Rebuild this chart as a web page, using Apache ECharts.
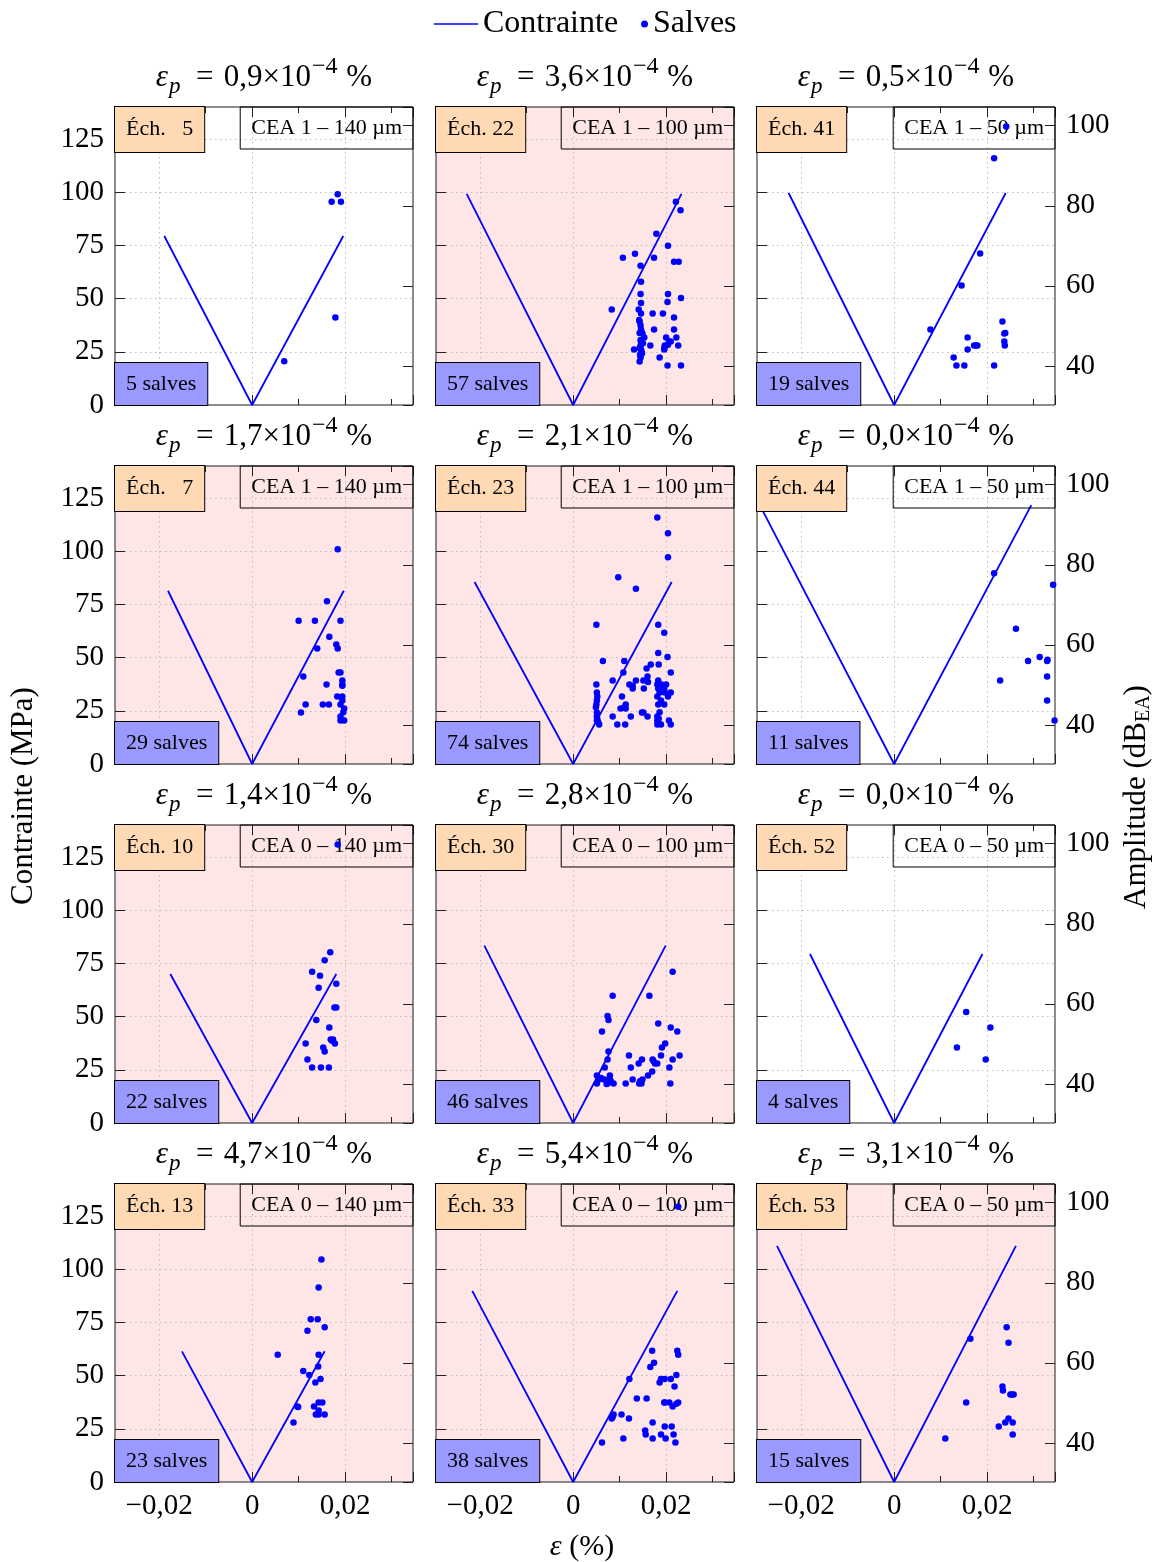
<!DOCTYPE html>
<html>
<head>
<meta charset="utf-8">
<script src="https://cdn.jsdelivr.net/npm/echarts@6.0.0/dist/echarts.min.js"></script>
<style>
  html, body { margin: 0; padding: 0; background: #fff; }
  #chart { width: 1162px; height: 1562px; }
</style>
</head>
<body>
<div id="chart"></div>
<script>
// panels, row by row
const echNums = ['\u20075', '22', '41', '\u20077', '23', '44', '10', '30', '52', '13', '33', '53']
const ceaLabels = [
  'CEA 1 – 140 µm', 'CEA 1 – 100 µm', 'CEA 1 – 50 µm',
  'CEA 1 – 140 µm', 'CEA 1 – 100 µm', 'CEA 1 – 50 µm',
  'CEA 0 – 140 µm', 'CEA 0 – 100 µm', 'CEA 0 – 50 µm',
  'CEA 0 – 140 µm', 'CEA 0 – 100 µm', 'CEA 0 – 50 µm'
]
const epsP = ['0,9', '3,6', '0,5', '1,7', '2,1', '0,0', '1,4', '2,8', '0,0', '4,7', '5,4', '3,1']
const salvesCount = [5, 57, 19, 29, 74, 11, 22, 46, 4, 23, 38, 15]
const pinkPanel = [false, true, false, true, true, false, true, true, false, true, true, true]

// Contrainte : V shape (strain at left top, strain at right top, peak stress)
const vLeft = [-0.0189, -0.0229, -0.0227, -0.0181, -0.0212, -0.0289, -0.0176, -0.0191, -0.0181, -0.0151, -0.0217, -0.0252]
const vRight = [0.0196, 0.0233, 0.0240, 0.0197, 0.0212, 0.0295, 0.0181, 0.0199, 0.0190, 0.0156, 0.0224, 0.0262]
const vPeak = [79.4, 99.2, 99.6, 81.4, 85.5, 121.6, 70.0, 83.3, 79.4, 61.4, 89.8, 110.9]

// Salves : [strain %, amplitude dB]
const salvesEch5 = [[0.0184,82.9],[0.0171,81.0],[0.0191,81.0],[0.0179,52.1],[0.0069,41.2]]
const salvesEch22 = [[0.0221,81.0],[0.0231,78.9],[0.0179,73.0],[0.0204,70.0],[0.0107,67.0],[0.0133,68.0],[0.0174,67.0],[0.0217,66.0],[0.0227,66.0],[0.0145,65.0],[0.0146,61.0],[0.0145,58.0],[0.0204,58.0],[0.0203,56.0],[0.0232,57.0],[0.0083,54.1],[0.0141,54.1],[0.0146,53.1],[0.0171,53.1],[0.0193,53.1],[0.0217,52.1],[0.0143,51.1],[0.0145,50.1],[0.0146,49.1],[0.0174,49.1],[0.0217,49.1],[0.0149,48.1],[0.0153,47.1],[0.0200,47.1],[0.0222,47.1],[0.0146,46.1],[0.0206,46.1],[0.0210,46.1],[0.0145,45.1],[0.0166,45.1],[0.0197,45.1],[0.0226,45.1],[0.0131,44.1],[0.0146,44.1],[0.0196,44.1],[0.0148,43.1],[0.0145,42.1],[0.0186,42.1],[0.0143,41.1],[0.0203,40.1],[0.0232,40.1],[0.0142,51.5],[0.0148,48.2],[0.0145,46.5],[0.0143,44.4],[0.0147,43.6],[0.0144,42.8],[0.0150,45.7],[0.0196,44.4],[0.0204,45.3],[0.0146,55.7],[0.0143,48.2]]
const salvesEch41 = [[0.0241,99.8],[0.0215,91.9],[0.0185,68.1],[0.0145,60.1],[0.0078,49.1],[0.0158,47.1],[0.0172,45.1],[0.0179,45.1],[0.0158,44.1],[0.0128,42.1],[0.0134,40.1],[0.0151,40.1],[0.0215,40.1],[0.0233,51.1],[0.0237,48.1],[0.0237,46.1],[0.0238,45.1],[0.0176,45.1],[0.0239,48.2]]
const salvesEch7 = [[0.0184,83.9],[0.0161,70.9],[0.0100,66.0],[0.0135,66.0],[0.0190,66.0],[0.0166,62.0],[0.0140,59.1],[0.0181,60.1],[0.0184,59.1],[0.0186,53.1],[0.0190,53.1],[0.0110,52.1],[0.0160,50.1],[0.0194,51.1],[0.0194,50.1],[0.0183,47.1],[0.0194,47.1],[0.0194,46.1],[0.0115,45.1],[0.0152,45.1],[0.0165,45.1],[0.0190,45.1],[0.0198,44.1],[0.0105,43.1],[0.0190,42.1],[0.0190,41.1],[0.0198,41.1],[0.0194,49.8],[0.0196,43.2]]
const salvesEch23 = [[0.0181,91.8],[0.0204,87.9],[0.0204,81.9],[0.0097,76.9],[0.0135,74.0],[0.0050,65.0],[0.0183,65.0],[0.0196,63.0],[0.0183,58.0],[0.0203,57.0],[0.0064,56.0],[0.0110,56.0],[0.0167,55.1],[0.0184,55.1],[0.0158,54.1],[0.0210,53.1],[0.0108,53.1],[0.0160,52.1],[0.0085,51.1],[0.0135,51.1],[0.0151,51.1],[0.0050,50.1],[0.0121,50.1],[0.0181,50.1],[0.0190,50.1],[0.0200,50.1],[0.0128,49.1],[0.0152,49.1],[0.0183,49.1],[0.0051,48.1],[0.0186,48.1],[0.0197,48.1],[0.0210,48.1],[0.0105,47.1],[0.0181,47.1],[0.0204,47.1],[0.0051,46.1],[0.0050,45.1],[0.0113,45.1],[0.0102,44.1],[0.0113,44.1],[0.0183,45.1],[0.0196,45.1],[0.0051,43.1],[0.0085,42.1],[0.0124,42.1],[0.0148,43.1],[0.0160,42.1],[0.0181,42.1],[0.0184,41.6],[0.0051,41.1],[0.0181,41.1],[0.0206,41.1],[0.0056,40.1],[0.0095,40.1],[0.0112,40.1],[0.0181,40.1],[0.0210,40.1],[0.0051,42.1],[0.0054,40.7],[0.0183,40.7],[0.0189,40.1],[0.0183,51.1],[0.0189,49.1],[0.0189,46.1],[0.0049,44.4],[0.0052,47.1],[0.0151,43.1],[0.0161,50.7],[0.0128,49.8],[0.0110,44.4],[0.0186,43.2],[0.0196,49.0],[0.0052,41.5]]
const salvesEch44 = [[0.0215,77.9],[0.0342,75.0],[0.0262,64.0],[0.0288,56.0],[0.0313,57.0],[0.0329,56.0],[0.0228,51.1],[0.0329,52.1],[0.0329,46.1],[0.0345,41.1],[0.0330,56.3]]
const salvesEch10 = [[0.0184,99.8],[0.0168,72.9],[0.0156,70.9],[0.0129,68.0],[0.0146,67.0],[0.0181,65.0],[0.0143,64.0],[0.0177,59.1],[0.0181,59.1],[0.0138,56.0],[0.0166,54.1],[0.0169,51.1],[0.0174,51.1],[0.0115,50.1],[0.0178,50.1],[0.0153,49.1],[0.0156,48.1],[0.0119,46.1],[0.0129,44.1],[0.0148,44.1],[0.0165,44.1],[0.0172,50.8]]
const salvesEch30 = [[0.0214,68.0],[0.0085,62.0],[0.0164,62.0],[0.0074,57.0],[0.0076,56.0],[0.0183,55.1],[0.0210,54.1],[0.0224,53.1],[0.0062,53.1],[0.0198,50.1],[0.0191,49.1],[0.0076,48.1],[0.0120,47.1],[0.0189,47.1],[0.0229,47.1],[0.0148,46.1],[0.0171,46.1],[0.0214,46.1],[0.0074,46.1],[0.0141,45.1],[0.0176,45.1],[0.0181,45.1],[0.0124,44.1],[0.0207,44.1],[0.0068,44.1],[0.0170,43.1],[0.0051,42.1],[0.0079,42.1],[0.0161,42.1],[0.0056,41.1],[0.0067,41.1],[0.0079,41.1],[0.0128,41.1],[0.0149,41.1],[0.0051,40.1],[0.0074,40.1],[0.0087,40.1],[0.0113,40.1],[0.0142,40.1],[0.0147,40.1],[0.0209,40.1],[0.0081,40.7],[0.0060,41.5],[0.0072,40.0],[0.0173,45.7],[0.0144,40.7]]
const salvesEch52 = [[0.0155,58.0],[0.0207,54.1],[0.0135,49.1],[0.0197,46.1]]
const salvesEch13 = [[0.0149,85.8],[0.0143,78.8],[0.0126,70.9],[0.0141,70.9],[0.0119,68.0],[0.0156,68.9],[0.0055,62.0],[0.0143,62.0],[0.0142,59.1],[0.0110,58.0],[0.0123,57.0],[0.0147,56.0],[0.0136,55.1],[0.0097,49.1],[0.0133,49.1],[0.0143,50.1],[0.0151,50.1],[0.0137,47.1],[0.0143,47.1],[0.0156,47.1],[0.0143,48.1],[0.0089,45.1],[0.0099,49.0]]
const salvesEch33 = [[0.0226,99.0],[0.0170,63.0],[0.0224,63.0],[0.0226,62.0],[0.0174,60.0],[0.0166,59.0],[0.0121,56.0],[0.0189,56.0],[0.0197,56.0],[0.0210,56.0],[0.0222,57.0],[0.0186,55.1],[0.0218,54.1],[0.0137,51.1],[0.0158,51.1],[0.0197,50.1],[0.0207,50.1],[0.0226,50.1],[0.0214,49.1],[0.0087,47.1],[0.0104,47.1],[0.0083,46.1],[0.0120,46.1],[0.0171,45.1],[0.0197,44.1],[0.0212,44.1],[0.0155,43.1],[0.0156,42.1],[0.0189,42.1],[0.0216,42.1],[0.0108,41.1],[0.0171,41.1],[0.0199,41.1],[0.0062,40.1],[0.0220,40.1],[0.0085,46.5],[0.0196,50.1],[0.0222,49.8]]
const salvesEch53 = [[0.0242,68.9],[0.0246,65.0],[0.0164,66.0],[0.0233,54.1],[0.0234,53.1],[0.0250,52.1],[0.0257,52.1],[0.0155,50.1],[0.0246,46.1],[0.0239,45.1],[0.0255,45.1],[0.0225,44.1],[0.0255,42.1],[0.0110,41.1],[0.0253,52.1]]

const salves = [salvesEch5, salvesEch22, salvesEch41, salvesEch7, salvesEch23, salvesEch44,
  salvesEch10, salvesEch30, salvesEch52, salvesEch13, salvesEch33, salvesEch53]

// axis ranges
const xMin = -0.0295, xMax = 0.0346
const stressMax = 140
const ampMin = 30.25, ampMax = 104.67

// layout
const colLeft = [115, 436, 757]
const rowTop = [107, 466, 825, 1184]
const PW = 298, PH = 298
const FONT = 'Liberation Serif'
const BLUE = '#0000ff'

function fmtStrain(v) {
  if (Math.abs(v) < 1e-9) return '0'
  return (v < 0 ? '\u2212' : '') + Math.abs(v).toFixed(2).replace('.', ',')
}

const grids = [], xAxes = [], xTopAxes = [], yAxes = [], seriesList = [], graphics = []
const tickStyle = { color: '#222', width: 1 }
const gridLineStyle = { color: '#bdbdbd', width: 1, type: [1.5, 3.5] }

for (let i = 0; i < 12; i++) {
  const row = Math.floor(i / 3), col = i % 3
  const L = colLeft[col], T = rowTop[row]
  grids.push({
    left: L, top: T, width: PW, height: PH, show: true,
    backgroundColor: pinkPanel[i] ? '#ffe6e6' : '#ffffff',
    borderColor: '#1a1a1a', borderWidth: 1, containLabel: false, outerBoundsMode: 'none'
  })
  xAxes.push({
    type: 'value', gridIndex: i, position: 'bottom', min: xMin, max: xMax,
    minInterval: 0.02, maxInterval: 0.02,
    axisLine: { show: false, onZero: false },
    axisTick: { show: true, inside: true, length: 10, lineStyle: tickStyle },
    minorTick: { show: true, splitNumber: 2, length: 6, lineStyle: tickStyle },
    splitLine: { show: true, showMinLine: false, showMaxLine: false, lineStyle: gridLineStyle },
    axisLabel: {
      show: row === 3, margin: 10, fontFamily: FONT, fontSize: 29, color: '#000',
      showMinLabel: false, showMaxLabel: false, formatter: fmtStrain
    }
  })
  xTopAxes.push({
    type: 'value', gridIndex: i, position: 'top', min: xMin, max: xMax,
    minInterval: 0.02, maxInterval: 0.02,
    axisLine: { show: false, onZero: false },
    axisTick: { show: true, inside: true, length: 10, lineStyle: tickStyle },
    minorTick: { show: true, splitNumber: 2, length: 6, lineStyle: tickStyle },
    splitLine: { show: false },
    axisLabel: { show: false }
  })
  yAxes.push({
    type: 'value', gridIndex: i, position: 'left', min: 0, max: stressMax, interval: 25,
    axisLine: { show: false, onZero: false },
    axisTick: { show: true, inside: true, length: 10, lineStyle: tickStyle },
    splitLine: { show: true, showMinLine: false, showMaxLine: false, lineStyle: gridLineStyle },
    axisLabel: {
      show: col === 0, margin: 11, fontFamily: FONT, fontSize: 29, color: '#000',
      showMinLabel: true, showMaxLabel: false
    }
  })
  yAxes.push({
    type: 'value', gridIndex: i, position: 'right', min: ampMin, max: ampMax,
    minInterval: 20, maxInterval: 20,
    axisLine: { show: false, onZero: false },
    axisTick: { show: true, inside: true, length: 10, lineStyle: tickStyle },
    splitLine: { show: false },
    axisLabel: {
      show: col === 2, margin: 11, fontFamily: FONT, fontSize: 29, color: '#000',
      showMinLabel: false, showMaxLabel: false
    }
  })

  seriesList.push({
    type: 'line', name: 'Contrainte', xAxisIndex: i, yAxisIndex: 2 * i,
    data: [[vLeft[i], vPeak[i]], [0, 0], [vRight[i], vPeak[i]]],
    symbol: 'none', showSymbol: false, lineStyle: { color: BLUE, width: 1.8 }, itemStyle: { color: BLUE }, z: 2
  })
  seriesList.push({
    type: 'scatter', name: 'Salves', xAxisIndex: i, yAxisIndex: 2 * i + 1,
    data: salves[i], symbol: 'circle', symbolSize: 6.5, itemStyle: { color: BLUE, opacity: 1 }, z: 4
  })

  // boxes (above the stress curve, below the salves)
  graphics.push({
    type: 'text', x: L, y: T, z: 3,
    style: {
      text: 'Éch. ' + echNums[i], fontFamily: FONT, fontSize: 22, fill: '#000',
      backgroundColor: '#ffd9b3', borderColor: '#000', borderWidth: 1,
      padding: [10, 11, 10, 11], lineHeight: 25, align: 'left', verticalAlign: 'top'
    }
  })
  graphics.push({
    type: 'text', x: L + PW, y: T, z: 3,
    style: {
      text: ceaLabels[i], fontFamily: FONT, fontSize: 22, fill: '#000',
      borderColor: '#000', borderWidth: 1,
      padding: [9, 11, 8, 11], lineHeight: 25, align: 'right', verticalAlign: 'top'
    }
  })
  graphics.push({
    type: 'text', x: L, y: T + PH, z: 3,
    style: {
      text: salvesCount[i] + ' salves', fontFamily: FONT, fontSize: 22, fill: '#000',
      backgroundColor: '#9999ff', borderColor: '#000', borderWidth: 1,
      padding: [9, 11, 8, 11], lineHeight: 25, align: 'left', verticalAlign: 'bottom'
    }
  })
  // panel title
  graphics.push({
    type: 'text', x: L + PW / 2, y: T - 29, z: 3,
    style: {
      text: '{i|ε}{s|p}{n|\u2002=\u2004' + epsP[i] + '×10}{u|\u22124}{n|\u2005%}',
      align: 'center', verticalAlign: 'middle',
      rich: {
        i: { fontFamily: FONT, fontStyle: 'italic', fontSize: 31, fill: '#000' },
        s: { fontFamily: FONT, fontStyle: 'italic', fontSize: 23, padding: [18, 0, 0, 1], fill: '#000' },
        n: { fontFamily: FONT, fontSize: 31, fill: '#000' },
        u: { fontFamily: FONT, fontSize: 24, padding: [0, 1, 22, 1], fill: '#000' }
      }
    }
  })
}

// axis names
graphics.push({
  type: 'text', x: 24, y: 796, rotation: Math.PI / 2, z: 3,
  style: { text: 'Contrainte (MPa)', fontFamily: FONT, fontSize: 31, fill: '#000', align: 'center', verticalAlign: 'middle' }
})
graphics.push({
  type: 'text', x: 1137, y: 797, rotation: Math.PI / 2, z: 3,
  style: {
    text: '{n|Amplitude (dB}{s|EA}{n|)}', align: 'center', verticalAlign: 'middle',
    rich: {
      n: { fontFamily: FONT, fontSize: 31, fill: '#000' },
      s: { fontFamily: FONT, fontSize: 20, padding: [14, 0, 0, 0], fill: '#000' }
    }
  }
})
graphics.push({
  type: 'text', x: 582, y: 1547, z: 3,
  style: {
    text: '{i|ε}{n| (%)}', align: 'center', verticalAlign: 'middle',
    rich: {
      i: { fontFamily: FONT, fontStyle: 'italic', fontSize: 30, fill: '#000' },
      n: { fontFamily: FONT, fontSize: 30, fill: '#000' }
    }
  }
})

const chart = echarts.init(document.getElementById('chart'), null, { renderer: 'canvas' })
chart.setOption({
  animation: false,
  backgroundColor: '#ffffff',
  legend: [
    {
      data: [{ name: 'Contrainte', icon: 'rect' }], left: 429, top: 3, padding: 5,
      itemWidth: 44, itemHeight: 1.3,
      selectedMode: false, textStyle: { fontFamily: FONT, fontSize: 32, color: '#000' }
    },
    {
      data: [{ name: 'Salves', icon: 'circle' }], left: 636, top: 3, padding: 5,
      itemWidth: 7, itemHeight: 28,
      selectedMode: false, textStyle: { fontFamily: FONT, fontSize: 32, color: '#000' }
    }
  ],
  grid: grids,
  xAxis: xAxes.concat(xTopAxes),
  yAxis: yAxes,
  series: seriesList,
  graphic: graphics
})
</script>
</body>
</html>
